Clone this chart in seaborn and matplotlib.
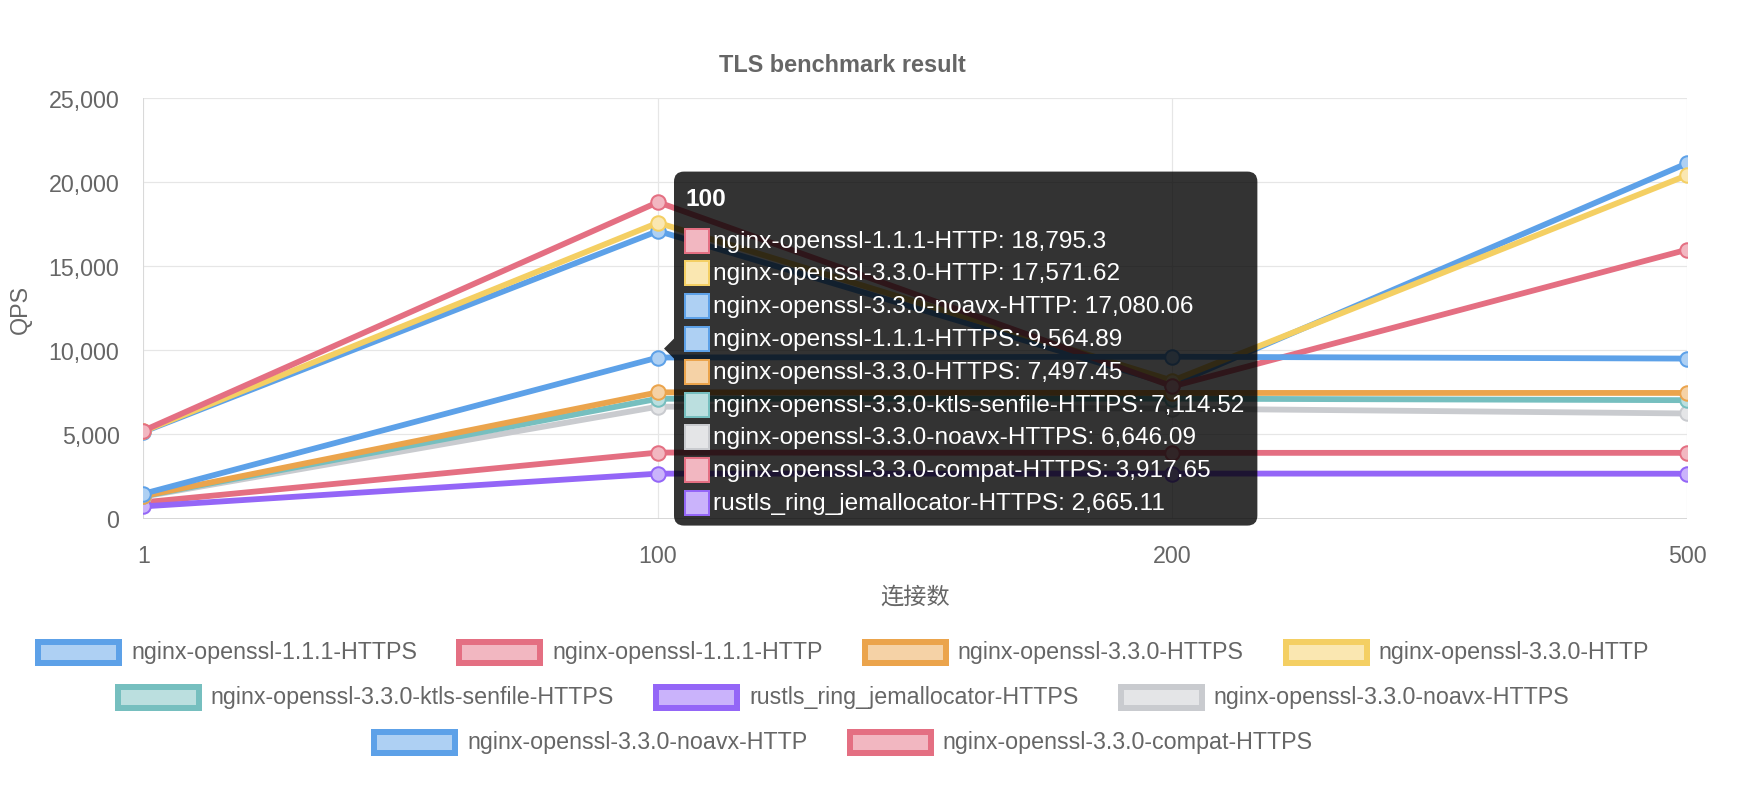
import numpy as np
import pandas as pd
import matplotlib
matplotlib.use("Agg")
import matplotlib.pyplot as plt
import seaborn as sns
from matplotlib.patches import FancyBboxPatch, Rectangle, Polygon
from matplotlib.transforms import IdentityTransform
from matplotlib.ticker import FuncFormatter, MultipleLocator

# ---------------- data ----------------
categories = ["1", "100", "200", "500"]

series_names = [
    "nginx-openssl-1.1.1-HTTPS",
    "nginx-openssl-1.1.1-HTTP",
    "nginx-openssl-3.3.0-HTTPS",
    "nginx-openssl-3.3.0-HTTP",
    "nginx-openssl-3.3.0-ktls-senfile-HTTPS",
    "rustls_ring_jemallocator-HTTPS",
    "nginx-openssl-3.3.0-noavx-HTTPS",
    "nginx-openssl-3.3.0-noavx-HTTP",
    "nginx-openssl-3.3.0-compat-HTTPS",
]

qps_111_https = [1470, 9564.89, 9610, 9500]
qps_111_http = [5220, 18795.3, 7850, 15970]
qps_330_https = [1340, 7497.45, 7460, 7460]
qps_330_http = [5180, 17571.62, 8190, 20390]
qps_330_ktls_https = [1330, 7114.52, 7120, 7030]
qps_rustls_https = [720, 2665.11, 2670, 2660]
qps_330_noavx_https = [1300, 6646.09, 6530, 6240]
qps_330_noavx_http = [5150, 17080.06, 7950, 21100]
qps_330_compat_https = [960, 3917.65, 3900, 3900]

series_values = [
    qps_111_https, qps_111_http, qps_330_https, qps_330_http,
    qps_330_ktls_https, qps_rustls_https, qps_330_noavx_https,
    qps_330_noavx_http, qps_330_compat_https,
]

series_colors = [
    "#5da1e8", "#e46f82", "#eba44c", "#f4cf63", "#76bfbf",
    "#9466f7", "#c9cbcf", "#5da1e8", "#e46f82",
]

tooltip_category = "100"
title = "TLS benchmark result"
x_label = "连接数"
y_label = "QPS"

# ---------------- style ----------------
W, H, DPI = 1758, 812, 100
PT = 72.0 / DPI  # points per pixel
TEXT = "#666666"
GRID = "#e6e6e6"
FS = 23.2 * PT
FS_TIP = 24.4 * PT

sns.set_style("white")
plt.rcParams["font.family"] = ["Liberation Sans", "Noto Sans CJK SC", "DejaVu Sans"]


def light(c, a=0.5):
    r, g, b = matplotlib.colors.to_rgb(c)
    return (1 - a * (1 - r), 1 - a * (1 - g), 1 - a * (1 - b))


df = pd.DataFrame({
    "series": np.repeat(series_names, len(categories)),
    x_label: categories * len(series_names),
    y_label: np.concatenate(series_values),
})

fig = plt.figure(figsize=(W / DPI, H / DPI), dpi=DPI)
ax = fig.add_axes([143.5 / W, 1 - 519.5 / H, (1687 - 143.5) / W, (519.5 - 98.7) / H])

n = len(series_names)
for i, (name, col) in enumerate(zip(series_names, series_colors)):
    sub = df[df["series"] == name]
    sns.lineplot(data=sub, x=x_label, y=y_label, ax=ax, sort=False,
                 color=col, linewidth=5.8 * PT, marker="o", markersize=14.5 * PT,
                 markerfacecolor=light(col), markeredgecolor=col,
                 markeredgewidth=2 * PT, zorder=20 + n - i, legend=False)

ax.set_xlim(0, len(categories) - 1)
ax.set_ylim(0, 25000)
ax.yaxis.set_major_locator(MultipleLocator(5000))
ax.yaxis.set_major_formatter(FuncFormatter(lambda v, p: f"{v:,.0f}"))
ax.grid(True, color=GRID, linewidth=1.2 * PT)
for s in ax.spines.values():
    s.set_visible(False)
ax.axhline(0, color="#cccccc", linewidth=1.5 * PT, zorder=5)
ax.axvline(0, color="#d6d6d6", linewidth=1.5 * PT, zorder=5)
ax.tick_params(axis="both", length=16 * PT, width=1.2 * PT, color=GRID,
               labelsize=FS, labelcolor=TEXT)
ax.tick_params(axis="y", pad=8 * PT)
ax.tick_params(axis="x", pad=10 * PT)
ax.set_xlabel(x_label, fontsize=FS, color=TEXT)
ax.set_ylabel(y_label, fontsize=FS, color=TEXT)
ax.xaxis.set_label_coords(0.5, -0.158)
ax.yaxis.set_label_coords(-0.0725, 0.5)

fig.text(842 / W, 1 - 66 / H, title, ha="center", va="center",
         fontsize=23.5 * PT, fontweight="bold", color=TEXT)

ID = IdentityTransform()
renderer = fig.canvas.get_renderer()

# ---------------- legend (centred rows) ----------------
rows = [[0, 1, 2, 3], [4, 5, 6], [7, 8]]
row_y = [653, 698, 743]
box_w, box_h, box_lw = 81, 21, 6
gap_txt, gap_item = 9, 39
for row, yc in zip(rows, row_y):
    texts = []
    widths = []
    for idx in row:
        t = fig.text(0, H - yc, series_names[idx], transform=ID, ha="left",
                     va="center", fontsize=FS, color=TEXT)
        texts.append(t)
        widths.append(t.get_window_extent(renderer).width)
    item_w = [box_w + box_lw + gap_txt + w for w in widths]
    total = sum(item_w) + gap_item * (len(row) - 1)
    x = 842 - total / 2
    for idx, t, iw in zip(row, texts, item_w):
        col = series_colors[idx]
        fig.patches.append(Rectangle((x + box_lw / 2, H - yc - box_h / 2), box_w, box_h,
                                     transform=ID, facecolor=light(col), edgecolor=col,
                                     linewidth=box_lw * PT, figure=fig))
        t.set_position((x + box_w + box_lw + gap_txt, H - yc))
        x += iw + gap_item

# ---------------- tooltip ----------------
ci = categories.index(tooltip_category)
vals = [v[ci] for v in series_values]
order = sorted(range(n), key=lambda k: -vals[k])
px_x, px_y = ax.transData.transform((ci, np.mean(vals)))
tip_x = px_x + 6
left = tip_x + 10
box_hgt = 354
top = px_y + box_hgt / 2  # display coords (y up)

maxw = 0
for j, k in enumerate(order):
    yc = top - 57 - 12 - j * 32.8
    t = fig.text(left + 39, yc, f"{series_names[k]}: {vals[k]:,}", transform=ID,
                 ha="left", va="center", fontsize=FS_TIP, color="white", zorder=12)
    maxw = max(maxw, t.get_window_extent(renderer).width)
    col = series_colors[k]
    fig.patches.append(Rectangle((left + 11, yc - 12), 24, 24, transform=ID,
                                 facecolor=light(col), edgecolor=col,
                                 linewidth=2 * PT, zorder=11, figure=fig))
fig.text(left + 12, top - 27, tooltip_category, transform=ID, ha="left", va="center",
         fontsize=FS_TIP, fontweight="bold", color="white", zorder=12)
box_wid = 39 + maxw + 13
fig.patches.append(FancyBboxPatch((left, top - box_hgt), box_wid, box_hgt,
                                  boxstyle="round,pad=0,rounding_size=10",
                                  transform=ID, facecolor=(0, 0, 0, 0.8),
                                  edgecolor="none", zorder=10, figure=fig))
fig.patches.append(Polygon([(tip_x, px_y), (left, px_y + 10), (left, px_y - 10)],
                           closed=True, transform=ID, facecolor=(0, 0, 0, 0.8),
                           edgecolor="none", zorder=10, figure=fig))

fig.savefig("out.png", dpi=DPI, facecolor="white")
